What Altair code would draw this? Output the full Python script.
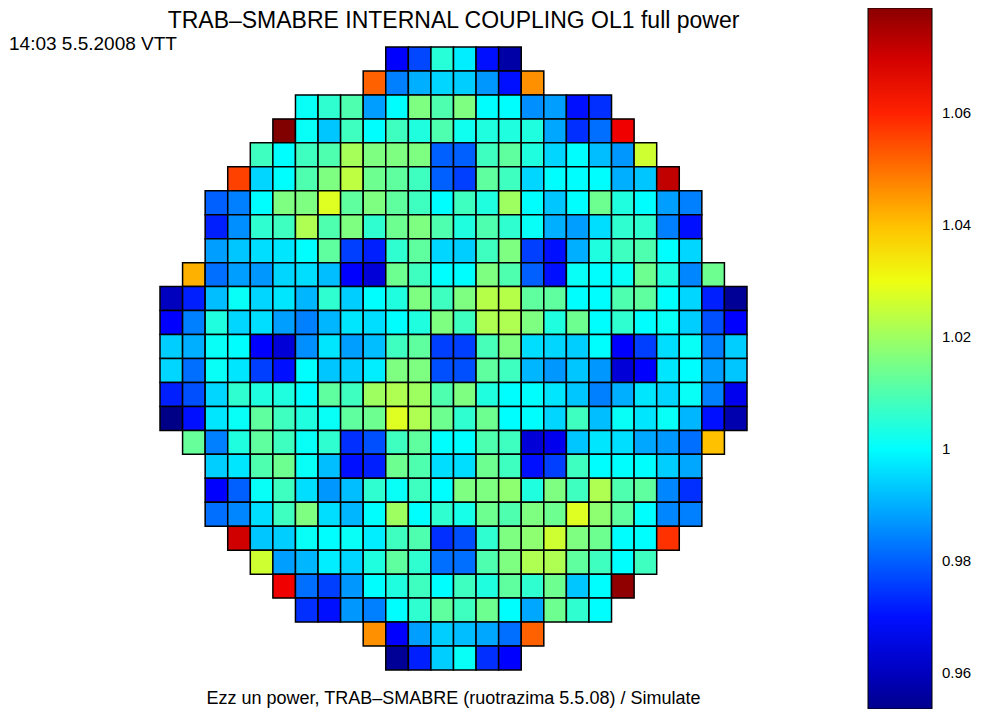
import altair as alt
import pandas as pd

title_text = "TRAB–SMABRE INTERNAL COUPLING OL1 full power"
stamp_text = "14:03 5.5.2008 VTT"
footer_text = "Ezz un power, TRAB–SMABRE (ruotrazima 5.5.08) / Simulate"

# first occupied column of each core row (row 0 = top)
row_start = [10, 9, 6, 5, 4, 3, 2, 2, 2, 1, 0, 0, 0, 0, 0, 0, 1, 2, 2, 2, 3, 4, 5, 6, 9, 10]

r00 = [0.968, 0.977, 1.005, 0.998, 0.970, 0.957]
r01 = [1.052, 0.984, 0.990, 0.995, 0.994, 0.987, 0.970, 1.046]
r02 = [1.001, 1.006, 1.010, 0.988, 1.000, 1.016, 1.010, 1.016, 1.000, 1.000, 0.986, 0.988, 0.970, 0.974]
r03 = [1.080, 1.001, 0.993, 1.008, 1.000, 1.008, 1.004, 1.010, 1.002, 1.004, 1.004, 1.004, 0.989, 0.974, 0.982, 1.066]
r04 = [1.008, 1.000, 1.008, 1.010, 1.021, 1.016, 1.016, 1.016, 0.980, 0.980, 1.008, 1.012, 1.004, 0.995, 1.000, 0.992, 0.987, 1.026]
r05 = [1.056, 0.995, 1.000, 1.010, 1.016, 1.024, 1.014, 1.012, 1.008, 0.980, 0.976, 1.012, 1.008, 0.995, 1.000, 1.000, 1.000, 0.990, 0.993, 1.072]
r06 = [0.980, 0.984, 1.000, 1.016, 1.016, 1.028, 1.012, 1.016, 1.012, 1.008, 1.000, 1.008, 1.004, 1.020, 1.000, 0.993, 1.000, 1.014, 1.004, 1.000, 0.988, 0.984]
r07 = [0.972, 0.986, 1.006, 1.008, 1.022, 1.010, 1.016, 1.006, 1.014, 1.016, 1.010, 1.004, 1.010, 1.006, 1.001, 0.990, 0.988, 0.996, 1.006, 1.006, 0.984, 0.970]
r08 = [0.988, 0.993, 0.996, 0.997, 1.000, 1.012, 0.976, 0.972, 1.006, 1.012, 0.995, 0.994, 1.008, 1.016, 0.976, 0.970, 0.990, 1.004, 1.008, 1.010, 1.000, 0.995]
r09 = [1.042, 0.982, 0.988, 0.987, 0.995, 0.996, 0.992, 0.968, 0.963, 1.014, 1.008, 1.000, 1.000, 1.016, 1.010, 0.980, 0.970, 1.001, 1.000, 1.001, 1.014, 1.004, 0.985, 1.014]
r10 = [0.960, 0.972, 0.992, 1.001, 0.995, 0.997, 0.991, 1.006, 0.994, 1.000, 1.004, 1.016, 1.008, 1.016, 1.023, 1.023, 1.012, 1.012, 1.000, 1.000, 1.010, 1.012, 1.000, 0.995, 0.972, 0.955]
r11 = [0.968, 0.984, 1.004, 0.995, 0.996, 0.988, 0.984, 0.991, 0.997, 0.996, 1.000, 1.004, 1.016, 1.008, 1.022, 1.022, 1.016, 1.004, 1.014, 1.000, 1.006, 1.000, 1.001, 0.994, 0.978, 0.968]
r12 = [0.994, 0.990, 1.001, 1.000, 0.968, 0.963, 0.986, 0.997, 0.988, 0.992, 1.008, 1.012, 0.976, 0.976, 1.009, 1.016, 0.996, 0.995, 0.994, 1.000, 0.968, 0.976, 0.996, 1.001, 0.984, 0.994]
r13 = [0.995, 0.982, 1.001, 0.997, 0.976, 0.970, 1.000, 0.993, 0.994, 0.998, 1.016, 1.016, 0.978, 0.978, 1.012, 1.008, 0.991, 0.987, 0.993, 0.987, 0.963, 0.968, 0.997, 1.000, 0.988, 0.993]
r14 = [0.972, 0.978, 0.995, 1.006, 1.004, 1.004, 1.000, 1.012, 1.008, 1.020, 1.022, 1.020, 1.010, 1.016, 1.004, 1.000, 1.000, 0.997, 0.993, 0.984, 0.990, 0.997, 0.995, 1.001, 0.984, 0.966]
r15 = [0.953, 0.970, 0.997, 1.001, 1.012, 1.008, 1.004, 1.001, 1.012, 1.014, 1.028, 1.022, 1.014, 1.006, 1.014, 1.000, 1.000, 0.995, 1.008, 0.992, 1.001, 0.997, 1.001, 0.991, 0.970, 0.958]
r16 = [1.013, 0.984, 1.004, 1.012, 1.008, 1.001, 1.006, 0.974, 0.978, 1.008, 1.012, 1.000, 1.000, 1.010, 1.008, 0.963, 0.966, 0.993, 0.997, 0.996, 0.989, 0.987, 0.982, 1.040]
r17 = [0.994, 0.997, 1.010, 1.014, 1.001, 0.992, 0.970, 0.972, 1.014, 1.010, 0.996, 0.996, 1.014, 1.008, 0.970, 0.976, 1.008, 1.000, 1.000, 1.000, 0.994, 0.989]
r18 = [0.968, 0.980, 1.001, 1.008, 0.996, 0.987, 0.992, 1.006, 1.001, 1.008, 1.000, 1.016, 1.016, 1.018, 1.004, 1.016, 1.008, 1.022, 1.010, 1.012, 0.985, 0.974]
r19 = [0.982, 0.985, 0.996, 1.008, 1.016, 0.996, 0.991, 1.000, 1.020, 1.000, 1.006, 1.003, 1.014, 1.010, 1.016, 1.014, 1.028, 1.018, 1.012, 1.000, 0.985, 0.984]
r20 = [1.070, 0.993, 0.994, 1.001, 1.000, 1.001, 0.998, 1.008, 1.010, 0.974, 0.978, 1.006, 1.016, 1.018, 1.026, 1.016, 1.014, 1.000, 1.000, 1.058]
r21 = [1.026, 0.988, 0.991, 0.998, 0.995, 1.004, 1.012, 1.006, 0.982, 0.982, 1.010, 1.016, 1.022, 1.022, 1.012, 1.008, 1.000, 1.008]
r22 = [1.066, 0.982, 0.976, 0.987, 1.000, 1.004, 1.008, 1.000, 1.008, 1.004, 1.012, 1.006, 1.014, 0.993, 1.000, 1.078]
r23 = [0.974, 0.970, 0.987, 0.984, 1.000, 1.006, 1.012, 1.008, 1.014, 1.000, 0.989, 1.014, 1.006, 1.000]
r24 = [1.046, 0.968, 0.988, 0.994, 0.992, 0.989, 0.982, 1.052]
r25 = [0.955, 0.972, 0.994, 1.001, 0.974, 0.968]

rows = [r00, r01, r02, r03, r04, r05, r06, r07, r08, r09, r10, r11, r12,
        r13, r14, r15, r16, r17, r18, r19, r20, r21, r22, r23, r24, r25]

jet_stops = [0.9536, 0.9681, 1.0001, 1.0322, 1.0642, 1.0788]
jet_colors = ["#00008c", "#0000ff", "#00ffff", "#ffff00", "#ff0000", "#8b0000"]
tick_values = [0.96, 0.98, 1.0, 1.02, 1.04, 1.06]

records = []
for r, (s, vals) in enumerate(zip(row_start, rows)):
    for k, v in enumerate(vals):
        records.append({"row": r, "col": s + k, "power": v})
df = pd.DataFrame(records)

W, H = 587, 623
FONT = "Liberation Sans"

cells = (
    alt.Chart(df)
    .transform_calculate(col2="datum.col + 1", row2="datum.row + 1")
    .mark_rect(stroke="black", strokeWidth=1.5)
    .encode(
        x=alt.X("col:Q", scale=alt.Scale(domain=[0, 26], nice=False, zero=False), axis=None),
        x2="col2:Q",
        y=alt.Y("row:Q", scale=alt.Scale(domain=[0, 26], nice=False, zero=False, reverse=True), axis=None),
        y2="row2:Q",
        color=alt.Color(
            "power:Q",
            title=None,
            scale=alt.Scale(domain=jet_stops, range=jet_colors, interpolate="rgb"),
            legend=alt.Legend(
                orient="none",
                legendX=708,
                legendY=-39,
                direction="vertical",
                gradientLength=701,
                gradientThickness=64,
                gradientStrokeColor="black",
                gradientStrokeWidth=1,
                values=tick_values,
                format=".2~f",
                labelFontSize=15,
                labelFont=FONT,
                labelColor="black",
                labelOffset=10,
            ),
        ),
    )
)

def label(text, x, y, size, align):
    return (
        alt.Chart(pd.DataFrame({"t": [text]}))
        .mark_text(align=align, baseline="alphabetic", fontSize=size, font=FONT, color="black")
        .encode(x=alt.value(x), y=alt.value(y), text="t:N")
    )

title_t = label(title_text, 293.5, -19, 23, "center")
stamp_t = label(stamp_text, -151, 3, 19, "left")
footer_t = label(footer_text, 293.5, 657, 18, "center")

chart = (
    alt.layer(cells, title_t, stamp_t, footer_t)
    .properties(
        width=W,
        height=H,
        padding={"left": 152, "top": 39, "right": 226, "bottom": 39},
        autosize=alt.AutoSizeParams(type="none"),
        background="white",
    )
    .configure_view(strokeWidth=0)
)

chart.save("out.html", embed_options={"renderer": "svg", "actions": False})
